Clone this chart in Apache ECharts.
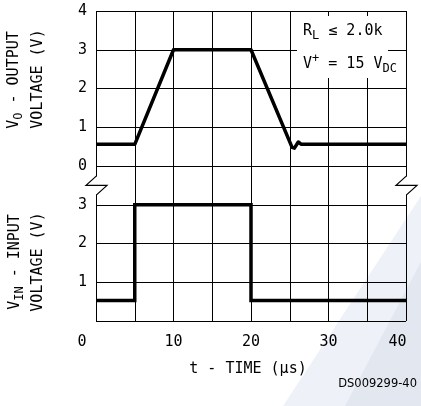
<!DOCTYPE html>
<html><head><meta charset="utf-8">
<script src="https://cdn.jsdelivr.net/npm/echarts@6/dist/echarts.min.js"></script>
<style>html,body{margin:0;padding:0;background:#fff}#c{width:421px;height:406px}</style>
</head><body><div id="c"></div>
<script>
// ---- data ----
const outputT = [0, 5, 10, 20, 25.3, 25.6, 26.1, 26.5, 40];
const outputV = [0.56, 0.56, 3.0, 3.0, 0.48, 0.46, 0.62, 0.56, 0.56];
const inputT = [0, 5, 5, 20, 20, 40];
const inputV = [0.53, 0.53, 3.0, 3.0, 0.53, 0.53];
const xTickLabels = [0, 10, 20, 30, 40];
const upperTickLabels = [0, 1, 2, 3, 4];
const lowerTickLabels = [1, 2, 3];
const breakValue = 3.5;

const FONT = 'DejaVu Sans Mono';
const chart = echarts.init(document.getElementById('c'), null, {renderer: 'canvas'});

const gridLine = {show: true, lineStyle: {color: '#000', width: 1}};
const noLine = {show: false};

const sub = {fontFamily: FONT, fontSize: 12, padding: [10, 0, 0, 0], color: '#000'};
const sup = {fontFamily: FONT, fontSize: 12, padding: [0, 0, 10, 0], color: '#000'};
const m = {fontFamily: FONT, fontSize: 15, color: '#000'};

const option = {
  animation: false,
  backgroundColor: '#fff',
  grid: [
    {left: 96, width: 310, top: 11, height: 155},
    {left: 96, width: 310, top: 166, height: 155}
  ],
  xAxis: [
    {gridIndex: 0, type: 'value', min: 0, max: 40, interval: 5,
     axisLine: noLine, axisTick: noLine, axisLabel: {show: false}, splitLine: gridLine},
    {gridIndex: 1, type: 'value', min: 0, max: 40, interval: 5,
     axisLine: noLine, axisTick: noLine, splitLine: gridLine,
     axisLabel: {show: true, margin: 14, color: '#000', fontFamily: FONT, fontSize: 15,
       formatter: v => {
         if (xTickLabels.indexOf(v) < 0) return '';
         if (v === 0) return '{a|0}';
         if (v === 40) return '{b|40}';
         return String(v);
       },
       rich: {a: Object.assign({}, m, {padding: [0, 28, 0, 0]}), b: Object.assign({}, m, {padding: [0, 17, 0, 0]})}
     }}
  ],
  yAxis: [
    {gridIndex: 0, type: 'value', min: 0, max: 4, interval: 1,
     axisLine: noLine, axisTick: noLine, splitLine: gridLine,
     axisLabel: {margin: 9, color: '#000', fontFamily: FONT, fontSize: 15,
       formatter: v => upperTickLabels.indexOf(v) >= 0 ? String(v) : ''}},
    {gridIndex: 1, type: 'value', min: 0, max: 4, interval: 1,
     axisLine: noLine, axisTick: noLine, splitLine: gridLine,
     axisLabel: {margin: 9, color: '#000', fontFamily: FONT, fontSize: 15,
       formatter: v => lowerTickLabels.indexOf(v) >= 0 ? String(v) : ''}}
  ],
  series: [
    {type: 'line', xAxisIndex: 0, yAxisIndex: 0, symbol: 'none', z: 5,
     lineStyle: {color: '#000', width: 3.5, join: 'round'},
     data: outputT.map((t, i) => [t, outputV[i]])},
    {type: 'line', xAxisIndex: 1, yAxisIndex: 1, symbol: 'none', z: 5,
     lineStyle: {color: '#000', width: 3.5, join: 'miter'},
     data: inputT.map((t, i) => [t, inputV[i]])}
  ]
};
chart.setOption(option);

function buildGraphics() {
  const pL = chart.convertToPixel({gridIndex: 1}, [0, breakValue]);
  const pR = chart.convertToPixel({gridIndex: 1}, [40, breakValue]);
  const els = [];
  // faint watermark bands
  els.push({type: 'polygon', z: -10, silent: true, shape: {points: [[421, 196], [421, 406], [283, 406]]}, style: {fill: '#eef1f7'}});
  els.push({type: 'polygon', z: -9, silent: true, shape: {points: [[421, 262], [421, 406], [345, 406]]}, style: {fill: '#e2e7f0'}});
  [pL, pR].forEach(p => {
    const x = Math.round(p[0]) + 0.5, y = p[1];
    els.push({type: 'rect', z: 50, shape: {x: x - 3, y: y - 9, width: 6, height: 18}, style: {fill: '#fff'}});
    els.push({type: 'polyline', z: 51, shape: {points: [[x, y - 9.5], [x - 10.5, y], [x + 10.5, y], [x, y + 9.5]]},
      style: {stroke: '#000', lineWidth: 1.2, fill: null}});
  });
  // annotation box
  els.push({type: 'rect', z: 50, shape: {x: 297, y: 16, width: 91, height: 62}, style: {fill: '#fff'}});
  els.push({type: 'text', z: 51, x: 303, y: 31, style: {
    text: '{m|R}{s|L}{m| ≤ 2.0k}', verticalAlign: 'middle', align: 'left', rich: {m: m, s: sub}}});
  els.push({type: 'text', z: 51, x: 303, y: 64, style: {
    text: '{m|V}{p|+}{m| = 15 V}{s|DC}', verticalAlign: 'middle', align: 'left', rich: {m: m, s: sub, p: sup}}});
  // y-axis titles
  const rot = Math.PI / 2;
  els.push({type: 'text', z: 51, x: 14, y: 80, rotation: rot, style: {
    text: '{m|V}{s|O}{m| - OUTPUT}', align: 'center', verticalAlign: 'middle', rich: {m: m, s: sub}}});
  els.push({type: 'text', z: 51, x: 38, y: 79, rotation: rot, style: {
    text: 'VOLTAGE (V)', align: 'center', verticalAlign: 'middle', fontFamily: FONT, fontSize: 15, fill: '#000'}});
  els.push({type: 'text', z: 51, x: 15, y: 262, rotation: rot, style: {
    text: '{m|V}{s|IN}{m| - INPUT}', align: 'center', verticalAlign: 'middle', rich: {m: m, s: sub}}});
  els.push({type: 'text', z: 51, x: 38, y: 262, rotation: rot, style: {
    text: 'VOLTAGE (V)', align: 'center', verticalAlign: 'middle', fontFamily: FONT, fontSize: 15, fill: '#000'}});
  // x title and code
  els.push({type: 'text', z: 51, x: 248, y: 369, style: {
    text: 't - TIME (μs)', align: 'center', verticalAlign: 'middle', fontFamily: FONT, fontSize: 15, fill: '#000'}});
  els.push({type: 'text', z: 51, x: 417, y: 384, style: {
    text: 'DS009299-40', align: 'right', verticalAlign: 'middle', fontFamily: 'DejaVu Sans', fontSize: 11.5, fill: '#000'}});
  chart.setOption({graphic: {elements: els}});
}
buildGraphics();
</script>
</body></html>
